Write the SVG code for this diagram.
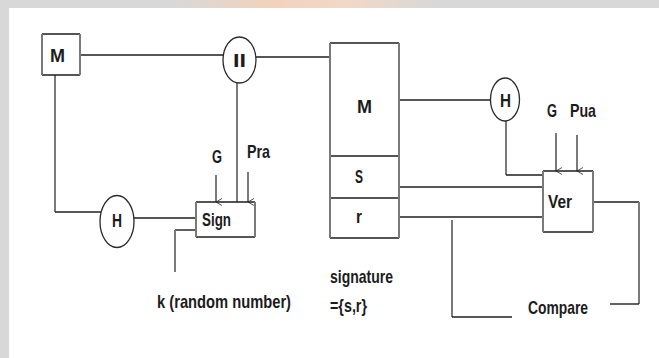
<svg xmlns="http://www.w3.org/2000/svg" width="659" height="358" viewBox="0 0 659 358">
<style>
.h{stroke:#1e1e1e;stroke-width:1.4;fill:none}
.v{stroke:#7a7a7a;stroke-width:2;fill:none}
.e{stroke:#2a2a2a;stroke-width:1.3;fill:#fff}
text{font-family:"Liberation Sans",Arial,sans-serif;font-weight:bold;font-size:19px;fill:#1c1c1c}
</style>
<defs>
<marker id="ah" markerWidth="8" markerHeight="8" refX="4" refY="7" orient="auto" markerUnits="userSpaceOnUse" viewBox="0 0 8 8">
<path d="M0.5,1 L4,7 L7.5,1" fill="none" stroke="#555" stroke-width="1"/>
</marker>
<linearGradient id="wm" x1="0" y1="0" x2="1" y2="0">
<stop offset="0" stop-color="#d8d8d8"/>
<stop offset="0.35" stop-color="#f0d2be"/>
<stop offset="0.65" stop-color="#f2d8c6"/>
<stop offset="1" stop-color="#d8d8d8"/>
</linearGradient>
</defs>
<rect width="659" height="358" fill="#d8d8d8"/>
<rect x="170" y="0" width="270" height="8" fill="url(#wm)"/>
<rect x="9" y="8" width="650" height="350" fill="#fff"/>

<g id="connectors">
<line class="h" x1="80" y1="55" x2="223.5" y2="55"/>
<line class="h" x1="256" y1="57" x2="330" y2="57"/>
<line class="v" x1="237" y1="83" x2="237" y2="202"/>
<polyline class="v" points="55,75 55,212"/>
<line class="h" x1="55" y1="212" x2="101" y2="212"/>
<line class="h" x1="134" y1="218" x2="196" y2="218"/>
<line class="h" x1="175" y1="230" x2="196" y2="230"/>
<line class="v" x1="175" y1="230" x2="175" y2="272"/>
<line class="v" x1="216" y1="175" x2="216" y2="202" marker-end="url(#ah)"/>
<line class="v" x1="248" y1="172" x2="248" y2="202" stroke-width="1.5" marker-end="url(#ah)"/>
<line class="h" x1="399" y1="100" x2="490.5" y2="100"/>
<line class="v" x1="506" y1="121" x2="506" y2="175"/>
<line class="h" x1="506" y1="175" x2="543" y2="175"/>
<line class="v" x1="556" y1="133" x2="556" y2="171" marker-end="url(#ah)"/>
<line class="v" x1="577" y1="135" x2="577" y2="171" stroke-width="1.5" marker-end="url(#ah)"/>
<line class="h" x1="399" y1="187" x2="543" y2="187"/>
<line class="h" x1="399" y1="217" x2="543" y2="217"/>
<line class="v" x1="452" y1="220" x2="452" y2="317"/>
<line class="h" x1="452" y1="317" x2="512" y2="317"/>
<line class="h" x1="593" y1="202" x2="639" y2="202"/>
<line class="v" x1="639" y1="202" x2="639" y2="304"/>
<line class="h" x1="610" y1="304" x2="639" y2="304"/>
</g>

<g id="node-m1">
<path class="h" d="M42,34 H80 M42,75 H80"/>
<path class="v" d="M42,34 V75 M80,34 V75"/>
<text x="50" y="62" textLength="15" lengthAdjust="spacingAndGlyphs">M</text>
</g>

<g id="node-concat">
<ellipse class="e" cx="239.5" cy="60" rx="16.5" ry="23"/>
<text x="233" y="67" textLength="13" lengthAdjust="spacingAndGlyphs">II</text>
</g>

<g id="node-h1">
<ellipse class="e" cx="117" cy="221.5" rx="17" ry="26"/>
<text x="112" y="227" textLength="10" lengthAdjust="spacingAndGlyphs">H</text>
</g>

<g id="node-sign">
<path class="h" d="M196,202 H255 M196,237 H255"/>
<path class="v" d="M196,202 V237 M255,202 V237"/>
<text x="202" y="226" textLength="29" lengthAdjust="spacingAndGlyphs">Sign</text>
</g>

<g id="label-g1"><text x="212" y="163" textLength="10" lengthAdjust="spacingAndGlyphs">G</text></g>
<g id="label-pra"><text x="247" y="158" textLength="23" lengthAdjust="spacingAndGlyphs">Pra</text></g>
<g id="label-k"><text x="157" y="308" textLength="134" lengthAdjust="spacingAndGlyphs">k (random number)</text></g>

<g id="node-signature">
<path class="h" d="M330,43 H399 M330,156 H399 M330,198 H399 M330,238 H399"/>
<path class="v" d="M330,43 V238 M399,43 V238"/>
<text x="357" y="113" textLength="15" lengthAdjust="spacingAndGlyphs">M</text>
<text x="355" y="183" textLength="8" lengthAdjust="spacingAndGlyphs">S</text>
<text x="356" y="223" textLength="6" lengthAdjust="spacingAndGlyphs">r</text>
</g>

<g id="label-signature">
<text x="330" y="283" textLength="63" lengthAdjust="spacingAndGlyphs">signature</text>
<text x="330" y="312" textLength="37" lengthAdjust="spacingAndGlyphs">={s,r}</text>
</g>

<g id="node-h2">
<ellipse class="e" cx="505" cy="99.5" rx="14.5" ry="21.5"/>
<text x="500" y="107" textLength="11" lengthAdjust="spacingAndGlyphs">H</text>
</g>

<g id="label-g2"><text x="547" y="117" textLength="10" lengthAdjust="spacingAndGlyphs">G</text></g>
<g id="label-pua"><text x="570" y="117" textLength="26" lengthAdjust="spacingAndGlyphs">Pua</text></g>

<g id="node-ver">
<path class="h" d="M543,171 H593 M543,232 H593"/>
<path class="v" d="M543,171 V232 M593,171 V232"/>
<text x="548" y="208" textLength="24" lengthAdjust="spacingAndGlyphs">Ver</text>
</g>

<g id="label-compare"><text x="528" y="314" textLength="60" lengthAdjust="spacingAndGlyphs">Compare</text></g>
</svg>
